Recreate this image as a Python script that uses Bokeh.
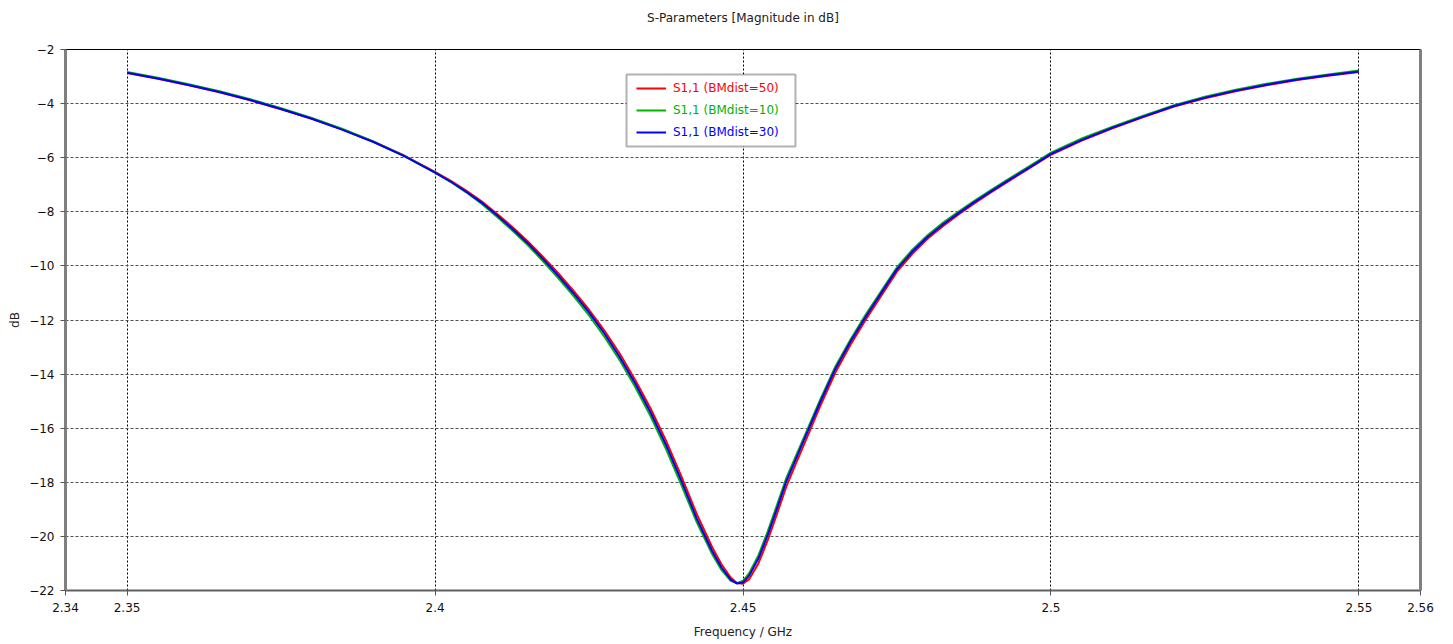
from bokeh.plotting import figure
from bokeh.models import (Range1d, FixedTicker, LinearAxis, Legend, LegendItem,
                          BoxAnnotation, CustomJSTickFormatter, Title)
from bokeh.embed import file_html
from bokeh.resources import INLINE

# ---- data ----
freq = [2.350, 2.355, 2.360, 2.365, 2.370, 2.375, 2.380, 2.385, 2.390, 2.395,
        2.400, 2.4025, 2.405, 2.4075, 2.410, 2.4125, 2.415, 2.4175, 2.420, 2.4225,
        2.425, 2.4275, 2.430, 2.4325, 2.435, 2.4375, 2.440, 2.4425, 2.445, 2.4465,
        2.448, 2.449, 2.450, 2.451, 2.4525, 2.454, 2.4555, 2.457, 2.4585, 2.460,
        2.4625, 2.465, 2.4675, 2.470, 2.4725, 2.475, 2.4775, 2.480, 2.4825, 2.485,
        2.4875, 2.490, 2.4925, 2.495, 2.4975, 2.500, 2.505, 2.510, 2.515, 2.520,
        2.525, 2.530, 2.535, 2.540, 2.545, 2.550]

s11_bm50 = [-2.87, -3.08, -3.32, -3.58, -3.88, -4.21, -4.56, -4.96, -5.41, -5.92,
            -6.52, -6.85, -7.21, -7.60, -8.06, -8.55, -9.08, -9.66, -10.27, -10.92,
            -11.62, -12.39, -13.25, -14.22, -15.27, -16.46, -17.78, -19.18, -20.40, -21.03,
            -21.52, -21.72, -21.75, -21.58, -21.00, -20.15, -19.18, -18.18, -17.36, -16.55,
            -15.20, -13.94, -12.90, -11.96, -11.08, -10.21, -9.55, -8.99, -8.52, -8.10,
            -7.70, -7.32, -6.96, -6.60, -6.25, -5.89, -5.37, -4.91, -4.50, -4.11,
            -3.80, -3.54, -3.32, -3.13, -2.97, -2.83]

s11_bm10 = [-2.83, -3.04, -3.28, -3.54, -3.84, -4.17, -4.53, -4.94, -5.40, -5.93,
            -6.55, -6.89, -7.27, -7.69, -8.17, -8.68, -9.22, -9.82, -10.45, -11.12,
            -11.83, -12.62, -13.50, -14.48, -15.56, -16.77, -18.10, -19.48, -20.66, -21.24,
            -21.64, -21.73, -21.64, -21.36, -20.70, -19.82, -18.85, -17.86, -17.07, -16.28,
            -14.96, -13.72, -12.70, -11.77, -10.91, -10.05, -9.40, -8.86, -8.40, -7.99,
            -7.60, -7.23, -6.87, -6.52, -6.17, -5.81, -5.29, -4.85, -4.45, -4.06,
            -3.75, -3.49, -3.27, -3.08, -2.92, -2.78]

s11_bm30 = [-2.86, -3.07, -3.31, -3.57, -3.87, -4.20, -4.56, -4.97, -5.42, -5.94,
            -6.55, -6.88, -7.25, -7.65, -8.12, -8.62, -9.15, -9.74, -10.36, -11.02,
            -11.72, -12.50, -13.38, -14.35, -15.42, -16.62, -17.95, -19.35, -20.55, -21.15,
            -21.60, -21.74, -21.70, -21.45, -20.82, -19.95, -18.98, -17.98, -17.18, -16.38,
            -15.05, -13.80, -12.78, -11.85, -10.98, -10.12, -9.47, -8.92, -8.46, -8.05,
            -7.65, -7.28, -6.92, -6.57, -6.22, -5.86, -5.34, -4.89, -4.48, -4.09,
            -3.78, -3.52, -3.30, -3.11, -2.95, -2.81]

series_labels = ["S1,1 (BMdist=50)", "S1,1 (BMdist=10)", "S1,1 (BMdist=30)"]
series_colors = ["#ff0000", "#00b400", "#0000ff"]
title_text = "S-Parameters [Magnitude in dB]"

x_ticks = [2.34, 2.35, 2.4, 2.45, 2.5, 2.55, 2.56]
x_grid = [2.35, 2.4, 2.45, 2.5, 2.55]
y_ticks = [-22, -20, -18, -16, -14, -12, -10, -8, -6, -4, -2]
y_grid = [-20, -18, -16, -14, -12, -10, -8, -6, -4]

FONT = "DejaVu Sans"

p = figure(width=1453, height=644, output_backend="svg", toolbar_location=None,
           x_range=Range1d(2.34, 2.56), y_range=Range1d(-22, -2),
           min_border_left=65, min_border_right=33, min_border_top=49,
           min_border_bottom=54, background_fill_color="white",
           border_fill_color="white")

p.title.text = title_text
p.title.align = "center"
p.title.text_font = FONT
p.title.text_font_size = "12px"
p.title.text_font_style = "normal"
p.title.text_color = "#222222"
p.title.standoff = 0

# spacer between the title and the plot frame
spacer = Title(text=" ", text_font=FONT, text_font_size="12px", standoff=9)
p.add_layout(spacer, "above")

p.outline_line_color = "black"
p.outline_line_width = 1

# axes
xa = p.xaxis[0]
xa.ticker = FixedTicker(ticks=x_ticks)
xa.formatter = CustomJSTickFormatter(code="return String(Math.round(tick*100)/100);")
xa.axis_label = "Frequency / GHz"
ya = p.yaxis[0]
ya.ticker = FixedTicker(ticks=y_ticks)
ya.axis_label = "dB"
for ax in (xa, ya):
    ax.major_label_text_font = FONT
    ax.major_label_text_font_size = "12px"
    ax.major_label_text_color = "#111111"
    ax.axis_label_text_font = FONT
    ax.axis_label_text_font_size = "12px"
    ax.axis_label_text_font_style = "normal"
    ax.axis_label_text_color = "#222222"
    ax.major_tick_in = 0
    ax.major_tick_out = 5
    ax.minor_tick_in = 0
    ax.minor_tick_out = 0
    ax.major_tick_line_color = "#555555"
ya.axis_line_color = "#808080"
ya.axis_line_width = 3
ya.major_label_standoff = 6
ya.axis_label_standoff = 4
xa.axis_line_color = "#606060"
xa.axis_line_width = 2
xa.major_label_standoff = 7
xa.axis_label_standoff = 10

ra = LinearAxis(ticker=FixedTicker(ticks=[]), major_label_text_font_size="0px",
                major_tick_out=0, minor_tick_out=0, major_tick_in=0, minor_tick_in=0,
                axis_line_color="#808080", axis_line_width=3)
p.add_layout(ra, "right")

# grid
p.xgrid.ticker = FixedTicker(ticks=x_grid)
p.xgrid.grid_line_color = "black"
p.xgrid.grid_line_dash = "2 2"
p.xgrid.grid_line_width = 1
p.ygrid.ticker = FixedTicker(ticks=y_grid)
p.ygrid.grid_line_color = "#505050"
p.ygrid.grid_line_dash = "3 2"
p.ygrid.grid_line_width = 1

# curves
renderers = []
for ys, col in zip([s11_bm50, s11_bm10, s11_bm30], series_colors):
    r = p.line(freq, ys, line_color=col, line_width=2, line_join="round")
    renderers.append(r)

# legend box (border) and per-series legends with coloured labels
box = BoxAnnotation(left=2.43109, right=2.45852, top=-2.924, bottom=-5.586,
                    fill_color="white", fill_alpha=1.0, line_color="black",
                    line_width=2)
p.add_layout(box)

legend_y = [492, 470, 448]
for r, lab, col, ly in zip(renderers, series_labels, series_colors, legend_y):
    lg = Legend(items=[LegendItem(label=lab, renderers=[r])],
                location=(571, ly), orientation="vertical",
                border_line_alpha=0, background_fill_alpha=0,
                padding=0, margin=0, spacing=0,
                glyph_width=30, glyph_height=20, label_height=20,
                label_standoff=7, label_text_font=FONT,
                label_text_font_size="12px", label_text_color=col)
    p.add_layout(lg)

open("out.html", "w").write(file_html(p, INLINE))
